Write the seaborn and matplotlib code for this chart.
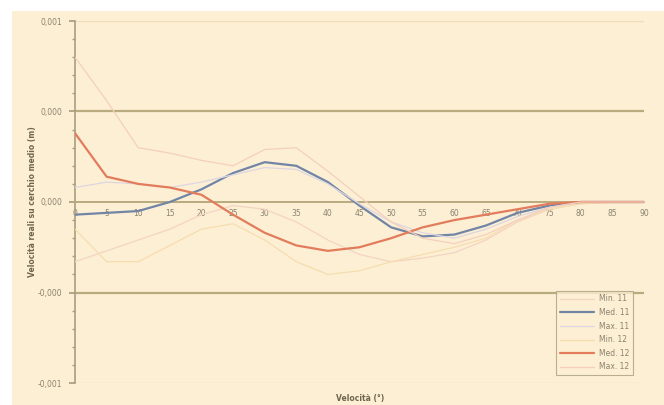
import numpy as np
import pandas as pd
import matplotlib
matplotlib.use("Agg")
import matplotlib.pyplot as plt
from matplotlib.lines import Line2D
import seaborn as sns
from matplotlib.patches import Rectangle
from matplotlib.ticker import MultipleLocator

# ---- data (units of the y axis) ----
speed = [0, 5, 10, 15, 20, 25, 30, 35, 40, 45, 50, 55, 60, 65, 70, 75, 80, 85, 90]

min_11 = [-0.00033, -0.00027, -0.00021, -0.00015, -0.00007, -0.00002, -0.00004, -0.00011,
          -0.00021, -0.00029, -0.00033, -0.00031, -0.00028, -0.00021, -0.00011, -0.00004,
          -0.00001, 0.0, 0.0]
med_11 = [-0.00007, -0.00006, -0.00005, 0.0, 0.00007, 0.00016, 0.00022, 0.00020, 0.00011,
          -0.00002, -0.00014, -0.00019, -0.00018, -0.00013, -0.00006, -0.00002, 0.0, 0.0, 0.0]
max_11 = [0.00008, 0.00011, 0.00010, 0.00008, 0.00011, 0.00015, 0.00019, 0.00018, 0.00010,
          -0.00001, -0.00011, -0.00017, -0.00020, -0.00015, -0.00008, -0.00003, 0.0, 0.0, 0.0]
min_12 = [-0.00015, -0.00033, -0.00033, -0.00024, -0.00015, -0.00012, -0.00021, -0.00033,
          -0.00040, -0.00038, -0.00033, -0.00029, -0.00025, -0.00020, -0.00010, -0.00004,
          -0.00001, 0.0, 0.0]
med_12 = [0.00038, 0.00014, 0.00010, 0.00008, 0.00004, -0.00007, -0.00017, -0.00024, -0.00027,
          -0.00025, -0.00020, -0.00014, -0.00010, -0.00007, -0.00004, -0.00001, 0.0, 0.0, 0.0]
max_12 = [0.00080, 0.00056, 0.00030, 0.00027, 0.00023, 0.00020, 0.00029, 0.00030, 0.00017,
          0.00003, -0.00011, -0.00020, -0.00023, -0.00018, -0.00010, -0.00003, 0.0, 0.0, 0.0]

series_names = ["Min. 11", "Med. 11", "Max. 11", "Min. 12", "Med. 12", "Max. 12"]
series_values = [min_11, med_11, max_11, min_12, med_12, max_12]

x_ticks = list(range(0, 91, 5))
y_ticks = [-0.001, -0.0005, 0.0, 0.0005, 0.001]
y_tick_labels = ["-0,001", "-0,000", "0,000", "0,000", "0,001"]

x_label = "Velocità (°)"
y_label = "Velocità reali su cerchio medio (m)"

# ---- build table ----
df = pd.concat(
    [pd.DataFrame({"speed": speed, "value": v, "series": n})
     for n, v in zip(series_names, series_values)],
    ignore_index=True,
)

palette = {
    "Min. 11": "#f3d4c2",
    "Med. 11": "#7285a6",
    "Max. 11": "#dcd6e2",
    "Min. 12": "#f6ddb0",
    "Med. 12": "#e27c5c",
    "Max. 12": "#f4cfbd",
}
widths = {"Min. 11": 0.9, "Med. 11": 1.6, "Max. 11": 0.9,
          "Min. 12": 0.9, "Med. 12": 1.6, "Max. 12": 0.9}

cream = "#fdefd3"
olive = "#b9ab7e"
txt = "#8a8270"

sns.set_theme(style="white")
plt.rcParams["font.family"] = ["DejaVu Sans"]

fig = plt.figure(figsize=(6.64, 4.05), dpi=100, facecolor="white")
fig.patches.append(Rectangle((12 / 664, 0), 1, 1 - 11 / 405, transform=fig.transFigure,
                             facecolor=cream, edgecolor="none", zorder=-10))
ax = fig.add_axes([75 / 664, 1 - 383 / 405, (644 - 75) / 664, (383 - 21) / 405])
ax.set_facecolor(cream)

# gridlines
for yv in [-0.0005, 0.0005]:
    ax.axhline(yv, color=olive, lw=1.6, zorder=1)
for yv in [-0.001, 0.001]:
    ax.axhline(yv, color="#efdcb8", lw=1.0, zorder=1)
ax.axhline(0, color=olive, lw=1.2, zorder=1)

sns.lineplot(data=df, x="speed", y="value", hue="series", palette=palette,
             hue_order=series_names, ax=ax, legend=False, zorder=3)

# per-series line widths (match by colour)
col2w = {matplotlib.colors.to_hex(palette[k]): widths[k] for k in series_names}
for line in ax.lines:
    c = matplotlib.colors.to_hex(line.get_color())
    if c in col2w:
        line.set_linewidth(col2w[c])

ax.set_xlim(0, 90)
ax.set_ylim(-0.001, 0.001)
ax.set_xticks(x_ticks)
ax.set_xticklabels([str(t) for t in x_ticks])
ax.set_yticks(y_ticks)
ax.set_yticklabels(y_tick_labels)
ax.yaxis.set_minor_locator(MultipleLocator(0.0001))

for s in ["top", "right"]:
    ax.spines[s].set_visible(False)
ax.spines["bottom"].set_position(("data", 0))
ax.spines["bottom"].set_color(olive)
ax.spines["left"].set_color("#a89e80")
ax.spines["left"].set_linewidth(1.2)
ax.spines["bottom"].set_linewidth(1.2)

ax.tick_params(axis="x", which="both", direction="inout", length=4, color=olive,
               labelsize=5.5, labelcolor=txt, pad=3)
ax.tick_params(axis="y", which="major", direction="out", length=4, color="#a89e80",
               labelsize=5.5, labelcolor=txt, pad=5, left=True)
ax.tick_params(axis="y", which="minor", direction="out", length=2, color="#a89e80", left=True)
ax.set_xlabel("")
ax.set_ylabel("")

fig.text(33 / 664, 1 - 202 / 405, y_label, rotation=90, ha="center", va="center",
         fontsize=5.5, fontweight="bold", color="#6e6650")
fig.text(360 / 664, 1 - 398 / 405, x_label, ha="center", va="center",
         fontsize=5.5, fontweight="bold", color="#6e6650")

leg_handles = [Line2D([], [], color=palette[n], lw=widths[n]) for n in series_names]
leg = ax.legend(leg_handles, series_names, loc="lower right",
                bbox_to_anchor=(637 / 664, 1 - 379 / 405), bbox_transform=fig.transFigure,
                fontsize=5.5, frameon=True, fancybox=False, handlelength=4.5,
                labelspacing=0.6, borderpad=0.5, handletextpad=0.6)
leg.get_frame().set_facecolor(cream)
leg.get_frame().set_edgecolor("#a89e80")
leg.get_frame().set_linewidth(0.8)
for t in leg.get_texts():
    t.set_color(txt)

fig.savefig("out.png", dpi=100, facecolor="white")
